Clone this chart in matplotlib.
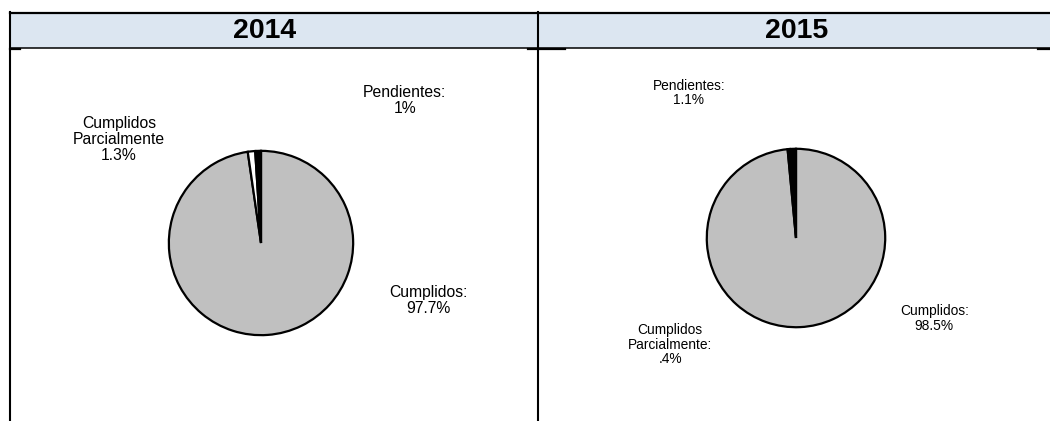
import matplotlib
matplotlib.use("Agg")
import matplotlib.pyplot as plt
from matplotlib.patches import Rectangle
from matplotlib.lines import Line2D

plt.rcParams["font.family"] = ["Liberation Sans", "DejaVu Sans"]

# data
years = ["2014", "2015"]
categories = ["Cumplidos", "Cumplidos Parcialmente", "Pendientes"]
values_2014 = [97.7, 1.3, 1.0]
values_2015 = [98.5, 0.4, 1.1]
labels_2014 = ["Cumplidos:\n97.7%", "Cumplidos\nParcialmente\n1.3%", "Pendientes:\n1%"]
labels_2015 = ["Cumplidos:\n98.5%", "Cumplidos\nParcialmente:\n.4%", "Pendientes:\n1.1%"]

colors = ["#C0C0C0", "#FFFFFF", "#000000"]
header_color = "#DCE6F1"

W, H = 1050, 421
fig = plt.figure(figsize=(W / 100, H / 100), dpi=100)

# overlay in pixel coords for the table frame
bg = fig.add_axes([0, 0, 1, 1])
bg.set_xlim(0, W)
bg.set_ylim(H, 0)
bg.axis("off")

bg.add_patch(Rectangle((10, 13), W - 10, 35, facecolor=header_color, edgecolor="none"))
bg.add_line(Line2D([10, W], [13, 13], color="black", lw=1.6))
bg.add_line(Line2D([10, W], [48, 48], color="black", lw=1.1))
bg.add_line(Line2D([10, 10], [12, H], color="black", lw=1.5))
bg.add_line(Line2D([537.5, 537.5], [12, H], color="black", lw=1.5))
# small marks left over from the chart borders
for x0, x1 in [(10, 20), (528, 565), (1038, W)]:
    bg.add_line(Line2D([x0, x1], [48.6, 48.6], color="black", lw=1.6))

bg.text(265, 31, years[0], ha="center", va="center", fontsize=20.5, fontweight="bold")
bg.text(797, 31, years[1], ha="center", va="center", fontsize=20.5, fontweight="bold")

# pie placement in pixels: centre x, centre y, radius, label font size
pies = [
    (values_2014, labels_2014, (261, 243, 94), 11.3,
     [(1.82, -0.62), (-1.54, 1.12), (1.56, 1.55)]),
    (values_2015, labels_2015, (796, 238, 91), 9.9,
     [(1.55, -0.90), (-1.41, -1.195), (-1.20, 1.625)]),
]

for vals, labs, (cx, cy, r), fs, label_pos in pies:
    ax = fig.add_axes([(cx - r) / W, (H - cy - r) / H, 2 * r / W, 2 * r / H])
    ax.pie(
        vals,
        colors=colors,
        startangle=90,
        counterclock=False,
        wedgeprops=dict(edgecolor="black", linewidth=1.6),
    )
    ax.set_xlim(-1.02, 1.02)
    ax.set_ylim(-1.02, 1.02)
    ax.set_aspect("equal")
    for lab, (lx, ly) in zip(labs, label_pos):
        ax.text(lx, ly, lab, ha="center", va="center", fontsize=fs,
                linespacing=1.08, clip_on=False)

fig.savefig("out.png", dpi=100)
